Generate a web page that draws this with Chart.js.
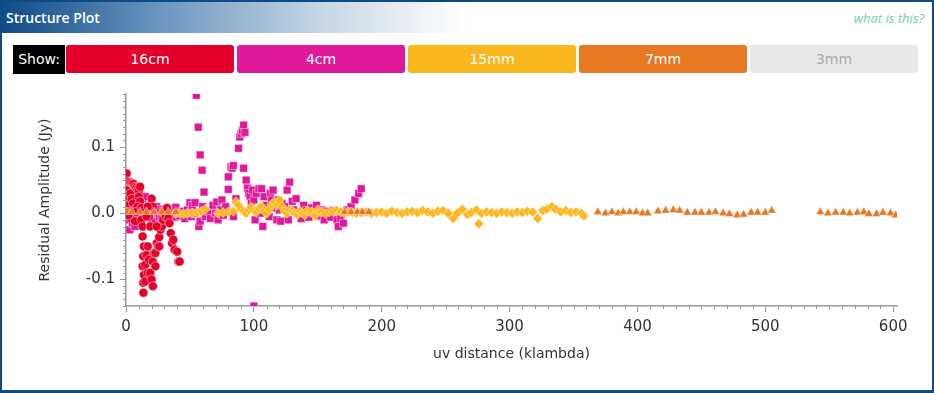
<!DOCTYPE html>
<html>
<head>
<meta charset="utf-8">
<script src="https://cdn.jsdelivr.net/npm/chart.js@4/dist/chart.umd.min.js"></script>
<style>
    body { margin: 0; background: #fff; font-family: "DejaVu Sans", sans-serif; }
    .frame {
        position: absolute; left: 0; top: 0; width: 934px; height: 393px;
        box-sizing: border-box; border: 2px solid #0d4a86; border-bottom-width: 3px;
        pointer-events: none; z-index: 5;
    }
    .header {
        position: absolute; left: 0; top: 0; width: 466px; height: 33px;
        background: linear-gradient(to right, #0d4a86 0%, #6c97c0 35%, #c9d8e6 70%, #ffffff 100%);
        border-bottom-right-radius: 8px;
    }
    .header span {
        position: absolute; left: 6px; top: 8px; color: #fff;
        font: 600 14px "Open Sans", sans-serif;
    }
    .help {
        position: absolute; right: 10px; top: 9px; color: #6dd3a6;
        font: italic 13px "Open Sans", sans-serif;
    }
    .buttons { position: absolute; left: 13px; top: 45px; height: 29px; }
    .buttons div {
        position: absolute; top: 0; height: 28px; text-align: center;
        color: #fff; font: 14px "DejaVu Sans", sans-serif; line-height: 28px; border-radius: 3px;
    }
    .wrap { position: absolute; left: 0; top: 80px; width: 930px; height: 300px; }
</style>
</head>
<body>
<div class="header"><span>Structure Plot</span></div>
<div class="help">what is this?</div>
<div class="buttons" id="buttons"></div>
<div class="wrap"><canvas id="chart"></canvas></div>
<div class="frame"></div>
<script>
// バンド名と色
const bands = ['16cm', '4cm', '15mm', '7mm', '3mm'];
const bandColors = ['#e4002b', '#e0199a', '#fdb71e', '#e87722', '#e8e8e8'];

// 残差振幅 [uv距離 (klambda), 振幅 (Jy)]
const points16cm = [
    [0.5,0.060],[1,0.048],[1.5,0.035],[2,0.025],[2.5,0.012],[1,0.002],[3,0.047],[4,0.046],
    [5,0.045],[6,0.044],[7,0.040],[3.5,0.030],[4.5,0.022],[5.5,0.015],[6,0.005],[4,-0.008],
    [2,-0.003],[8,0.038],[9,0.036],[10,0.034],[11,0.040],[10,0.025],[11,0.018],[9,0.010],
    [8,0.002],[7,-0.012],[12,0.008],[12,-0.010],[13,-0.020],[13,-0.035],[14,-0.050],[13.5,-0.065],
    [13,-0.080],[14,-0.093],[13.5,-0.105],[13.6,-0.120],[15,-0.078],[15,-0.103],[16,-0.063],[17,-0.050],
    [17,-0.090],[18,-0.070],[19,-0.020],[19,-0.090],[20,-0.100],[21,-0.110],[20,0.022],[21,0.010],
    [17,0.010],[18,-0.005],[16,-0.005],[21,-0.073],[22,-0.060],[23,-0.080],[23,-0.060],[24,-0.045],
    [25,-0.050],[26,-0.036],[27,-0.025],[28,-0.020],[29,-0.010],[30,0.000],[31,-0.005],[32,0.008],
    [33,-0.008],[34,-0.015],[35,-0.030],[36,-0.045],[37,-0.040],[38,-0.055],[40,-0.058],[41,-0.073],
    [42,-0.073],[24,-0.020],[26,-0.050]
];
const points4cm = [
    [0,0.010],[0.5,-0.005],[1,0.020],[2,-0.010],[3,-0.025],[4,0.005],[5,-0.015],[6,0.012],
    [7,-0.020],[8,0.000],[9,0.018],[10,-0.008],[11,0.005],[12,-0.012],[13,0.015],[14,0.000],
    [15,0.025],[16,-0.005],[17,0.010],[18,0.000],[19,0.005],[20,-0.010],[21,0.008],[22,0.002],
    [23,-0.012],[24,0.010],[25,0.000],[26,-0.005],[27,0.006],[28,-0.008],[29,0.003],[30,0.000],
    [31,-0.010],[32,0.005],[33,0.002],[34,-0.004],[35,0.007],[36,0.000],[37,0.003],[38,-0.006],
    [39,0.009],[40,0.000],[42,-0.004],[44,0.003],[46,-0.008],[48,0.005],[50,0.016],[51,-0.005],
    [52,0.012],[53,0.000],[54,0.016],[55,0.178],[56.5,0.130],[58,0.088],[59.5,0.065],[61,0.032],
    [57,-0.020],[58,-0.012],[60,0.010],[62,-0.005],[64,0.003],[66,-0.008],[68,0.012],[70,0.000],
    [71,0.017],[72,-0.010],[74,0.005],[75,0.020],[76,-0.003],[78,0.010],[80,0.036],[80,0.055],
    [82,0.070],[83,0.068],[84,0.072],[84,-0.005],[86,0.022],[88,0.098],[89,0.115],[90,0.120],
    [91,0.125],[92,0.133],[93,0.122],[92,0.068],[94,0.050],[95,0.038],[96,0.030],[97,0.025],
    [98,0.015],[99,0.035],[100,-0.140],[100,0.020],[101,-0.010],[102,0.030],[104,0.037],[105,0.000],
    [106,0.037],[107,-0.020],[108,0.025],[110,0.012],[112,-0.005],[113,0.030],[114,0.020],[115,0.035],
    [116,0.008],[118,-0.010],[119,0.020],[120,0.005],[121,-0.012],[122,0.015],[124,0.010],[126,0.035],
    [127,-0.010],[128,0.047],[130,0.018],[131,0.005],[133,0.022],[135,0.000],[137,-0.008],[139,0.012],
    [141,0.004],[143,-0.006],[145,0.008],[147,0.000],[149,0.012],[151,-0.004],[153,0.005],[155,-0.010],
    [157,0.003],[160,-0.006],[162,0.004],[165,-0.010],[166,-0.020],[168,-0.008],[170,-0.015],[173,0.005],
    [176,0.010],[179,0.020],[182,0.030],[184,0.037]
];
const points15mm = [
    [39,0.000],[42,0.000],[45,-0.001],[48,0.000],[52,0.000],[56,0.001],[59,0.003],[62,0.006],
    [72,0.000],[76,0.001],[80,0.002],[84,0.003],[86,0.017],[88,0.012],[90,0.006],[92,0.003],
    [94,0.000],[96,0.005],[98,0.009],[100,0.004],[102,0.002],[104,0.008],[106,0.010],[108,0.004],
    [110,0.000],[112,0.006],[114,0.013],[116,0.017],[118,0.012],[120,0.020],[122,0.010],[124,0.003],
    [126,0.000],[128,0.005],[130,0.003],[132,0.000],[134,-0.002],[136,0.003],[138,0.000],[140,-0.002],
    [142,0.004],[145,0.002],[148,-0.003],[150,0.005],[153,0.002],[156,0.000],[159,0.002],[162,0.003],
    [165,0.004],[168,0.002],[171,0.000],[174,0.002],[177,0.001],[180,0.000],[184,0.001],[188,0.002],
    [192,0.000],[196,0.001],[200,0.002],[204,0.000],[208,0.003],[212,0.001],[216,0.000],[220,0.002],
    [224,0.003],[228,0.001],[232,0.004],[236,0.002],[240,0.000],[244,0.003],[248,0.004],[252,0.000],
    [256,-0.008],[259,0.000],[263,0.006],[267,-0.002],[270,0.001],[274,0.005],[276,-0.016],[278,0.000],
    [282,0.002],[286,0.001],[290,0.000],[294,0.002],[298,0.001],[302,0.000],[306,0.002],[310,0.001],
    [314,0.003],[318,0.002],[322,-0.008],[326,0.004],[329,0.006],[333,0.010],[336,0.006],[340,0.002],
    [344,0.004],[348,0.001],[352,0.002],[356,0.000],[358,-0.004]
];
const points7mm = [
    [1,0.002],[4.5,0.002],[11,0.002],[16,0.002],[22,0.002],[28,0.002],[33,0.002],[39,0.002],
    [171,0.002],[176,0.002],[181,0.002],[185,0.002],[190,0.002],
    [369,0.002],[375,0.000],[380,0.002],[385,0.000],[389,0.002],[394,0.002],[399,0.002],[404,0.000],
    [408,0.000],[416,0.003],[422,0.004],[428,0.005],[433,0.004],[439,0.001],[445,0.001],[450,0.001],
    [456,0.001],[461,0.002],[467,0.000],[472,-0.001],[478,-0.003],[483,-0.002],[489,0.001],[494,0.001],
    [500,0.001],[505,0.004],[543,0.002],[549,0.000],[555,0.001],[561,0.001],[566,0.000],[572,0.001],
    [577,0.002],[581,-0.001],[587,-0.001],[592,0.001],[598,0.000],[602,-0.003]
];

// 軸範囲と目盛り
const xRange = [0, 603];
const yRange = [-0.14, 0.18];
const xTicks = [0, 100, 200, 300, 400, 500, 600];
const yTicks = [-0.1, 0, 0.1];

// ボタン行
const btnBox = document.getElementById('buttons');
const showEl = document.createElement('div');
showEl.textContent = 'Show:';
showEl.style.cssText = 'left:0;width:52px;background:#000;border-radius:0;height:29px;line-height:29px;';
btnBox.appendChild(showEl);
bands.forEach((b, i) => {
    const el = document.createElement('div');
    el.textContent = b;
    el.style.left = (53 + i * 171) + 'px';
    el.style.width = '168px';
    el.style.background = bandColors[i];
    if (b === '3mm') el.style.color = '#aaaaaa';
    btnBox.appendChild(el);
});

const toXY = arr => arr.map(p => ({ x: p[0], y: p[1] }));

// 副目盛りを描く
const minorTicks = {
    id: 'minorTicks',
    afterDraw(chart) {
        const { ctx, scales: { x, y } } = chart;
        ctx.save();
        ctx.strokeStyle = '#999';
        ctx.lineWidth = 1;
        ctx.beginPath();
        for (let v = -14; v <= 18; v++) {
            if (v % 10 === 0) continue;
            const py = Math.round(y.getPixelForValue(v / 100)) + 0.5;
            ctx.moveTo(x.left, py);
            ctx.lineTo(x.left - 3, py);
        }
        for (let v = 10; v <= 600; v += 10) {
            if (v % 100 === 0) continue;
            const px = Math.round(x.getPixelForValue(v)) + 0.5;
            ctx.moveTo(px, y.bottom);
            ctx.lineTo(px, y.bottom + 3);
        }
        ctx.stroke();
        ctx.restore();
    }
};

const ds = (label, data, color, style, radius, order) => ({
    label,
    data: toXY(data),
    pointStyle: style,
    pointRadius: radius,
    backgroundColor: color,
    borderColor: 'rgba(255,255,255,0.45)',
    borderWidth: 1,
    order
});

new Chart(document.getElementById('chart'), {
    type: 'scatter',
    data: {
        datasets: [
            ds('16cm', points16cm, bandColors[0], 'circle', 4.5, 2),
            ds('4cm', points4cm, bandColors[1], 'rect', 5.5, 3),
            ds('15mm', points15mm, bandColors[2], 'rectRot', 5, 1),
            ds('7mm', points7mm, bandColors[3], 'triangle', 5, 0)
        ]
    },
    options: {
        responsive: true,
        maintainAspectRatio: false,
        animation: false,
        layout: { padding: { top: 13, right: 33, left: 0, bottom: 0 } },
        plugins: { legend: { display: false }, tooltip: { enabled: false } },
        scales: {
            x: {
                type: 'linear',
                min: xRange[0],
                max: xRange[1],
                afterFit(s) { s.height = 74; },
                afterBuildTicks(s) { s.ticks = xTicks.map(v => ({ value: v })); },
                border: { color: '#999', width: 1.5 },
                grid: { drawOnChartArea: false, tickLength: 6, tickColor: '#999' },
                ticks: {
                    padding: 6,
                    color: '#333',
                    font: { family: 'DejaVu Sans', size: 15 }
                },
                title: {
                    display: true,
                    text: 'uv distance (klambda)',
                    color: '#333',
                    font: { family: 'DejaVu Sans', size: 14 },
                    padding: { top: 0, bottom: 17 }
                }
            },
            y: {
                type: 'linear',
                min: yRange[0],
                max: yRange[1],
                afterFit(s) { s.width = 126; },
                afterBuildTicks(s) { s.ticks = yTicks.map(v => ({ value: v })); },
                border: { color: '#999', width: 1.5 },
                grid: { drawOnChartArea: false, tickLength: 6, tickColor: '#999' },
                ticks: {
                    padding: 5,
                    color: '#333',
                    font: { family: 'DejaVu Sans', size: 15 },
                    callback: v => v.toFixed(1)
                },
                title: {
                    display: true,
                    text: 'Residual Amplitude (Jy)',
                    color: '#333',
                    font: { family: 'DejaVu Sans', size: 14 },
                    padding: { top: 37, bottom: 0 }
                }
            }
        }
    },
    plugins: [minorTicks]
});
</script>
</body>
</html>
